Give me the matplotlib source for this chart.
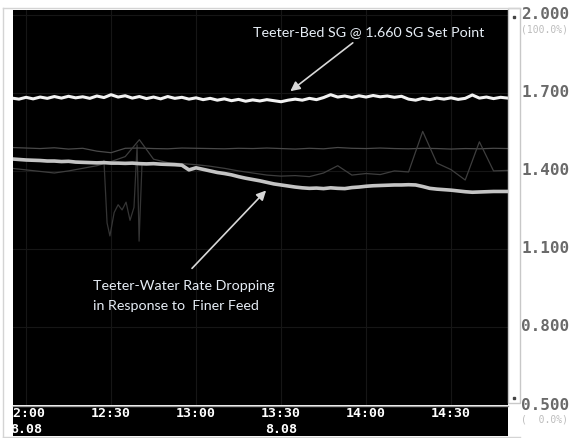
import numpy as np
import matplotlib
matplotlib.use('Agg')
import matplotlib.pyplot as plt
from matplotlib.lines import Line2D
from matplotlib.patches import Rectangle

# time in minutes after 12:00
t = np.arange(-5, 171, 2.5)
t5 = np.arange(-5, 171, 5)

bed_sg = [1.680, 1.676, 1.683, 1.677, 1.684, 1.679, 1.686, 1.680, 1.687, 1.681,
          1.685, 1.679, 1.688, 1.682, 1.693, 1.684, 1.689, 1.680, 1.686, 1.678,
          1.684, 1.677, 1.686, 1.679, 1.683, 1.676, 1.681, 1.674, 1.679, 1.672,
          1.677, 1.670, 1.675, 1.668, 1.673, 1.669, 1.674, 1.670, 1.666, 1.672,
          1.676, 1.672, 1.679, 1.674, 1.682, 1.693, 1.684, 1.688, 1.682, 1.689,
          1.684, 1.690, 1.685, 1.688, 1.683, 1.687, 1.676, 1.672, 1.679, 1.674,
          1.680, 1.676, 1.681, 1.675, 1.679, 1.692, 1.680, 1.684, 1.678, 1.683,
          1.680]

water_rate = [1.446, 1.444, 1.442, 1.441, 1.440, 1.438, 1.438, 1.436, 1.437, 1.434,
              1.433, 1.432, 1.431, 1.432, 1.430, 1.430, 1.429, 1.430, 1.428, 1.427,
              1.428, 1.426, 1.425, 1.424, 1.422, 1.404, 1.412, 1.406, 1.400, 1.394,
              1.390, 1.385, 1.378, 1.372, 1.367, 1.362, 1.356, 1.350, 1.346, 1.342,
              1.338, 1.335, 1.333, 1.334, 1.332, 1.335, 1.333, 1.332, 1.336, 1.338,
              1.341, 1.343, 1.344, 1.345, 1.346, 1.346, 1.347, 1.346, 1.340, 1.333,
              1.330, 1.328, 1.326, 1.323, 1.320, 1.318, 1.319, 1.320, 1.321, 1.321,
              1.321]

thin_a = [1.490, 1.488, 1.486, 1.489, 1.484, 1.487, 1.476, 1.470, 1.487, 1.488,
          1.486, 1.485, 1.488, 1.487, 1.486, 1.485, 1.487, 1.486, 1.488, 1.486,
          1.484, 1.487, 1.485, 1.490, 1.487, 1.486, 1.488, 1.486, 1.485, 1.487,
          1.486, 1.484, 1.486, 1.485, 1.487, 1.486]

thin_b = [1.410, 1.404, 1.398, 1.392, 1.400, 1.410, 1.420, 1.436, 1.455, 1.520,
          1.445, 1.432, 1.428, 1.424, 1.418, 1.410, 1.400, 1.392, 1.384, 1.380,
          1.382, 1.378, 1.392, 1.420, 1.384, 1.390, 1.386, 1.400, 1.396, 1.552,
          1.430, 1.405, 1.365, 1.512, 1.400, 1.402]

drop_t = [27.5, 28.6, 29.6, 31.1, 32.5, 33.9, 35.3, 36.7, 38.1, 39.2, 39.9, 40.9]
drop_v = [1.44, 1.20, 1.15, 1.24, 1.27, 1.25, 1.28, 1.21, 1.26, 1.50, 1.13, 1.42]

ytick_vals = [2.0, 1.7, 1.4, 1.1, 0.8, 0.5]
xtick_mins = [0, 30, 60, 90, 120, 150]
xtick_labels = ['12:00', '12:30', '13:00', '13:30', '14:00', '14:30']

W, H = 579, 438
fig = plt.figure(figsize=(W / 100, H / 100), dpi=100)
fig.patch.set_facecolor('white')

def box(x0, y0, x1, y1):
    # pixel box (top-left origin) -> figure fraction rect
    return [x0 / W, 1 - y1 / H, (x1 - x0) / W, (y1 - y0) / H]

xlim = (-4.6, 170.1)
ax = fig.add_axes(box(13, 10, 508, 405))
ax.set_facecolor('black')
ax.set_xlim(*xlim)
ax.set_ylim(0.5375, 2.0187)
ax.set_xticks(xtick_mins)
ax.set_yticks(ytick_vals)
ax.grid(True, color='#161616', lw=0.8)
ax.tick_params(length=0, labelbottom=False, labelleft=False)
for s in ax.spines.values():
    s.set_visible(False)

ax.plot(drop_t, drop_v, color='#353535', lw=0.9)
ax.plot(t5, thin_a, color='#4a4a4a', lw=0.9)
ax.plot(t5, thin_b, color='#3e3e3e', lw=0.9)
ax.plot(t, water_rate, color='#c4c4c4', lw=2.6)
ax.plot(t, bed_sg, color='#f2f2f2', lw=2.2)

txt_col = '#e6edf5'
ax.text(80.1, 1.9325, 'Teeter-Bed SG @ 1.660 SG Set Point', color=txt_col,
        fontsize=10.3, family='Lato', va='center', ha='left')
ax.annotate('', xy=(92.5, 1.700), xytext=(116.1, 1.899),
            arrowprops=dict(arrowstyle='-|>', color='#d8d8d8', lw=1.2, mutation_scale=14))
ax.text(23.6, 0.9575, 'Teeter-Water Rate Dropping', color=txt_col,
        fontsize=10.3, family='Lato', va='center', ha='left')
ax.text(23.6, 0.8825, 'in Response to  Finer Feed', color=txt_col,
        fontsize=10.3, family='Lato', va='center', ha='left')
ax.annotate('', xy=(85.4, 1.3325), xytext=(57.9, 1.0175),
            arrowprops=dict(arrowstyle='-|>', color='#d8d8d8', lw=1.2, mutation_scale=14))

# value scale on the right
for v in ytick_vals:
    ax.text(1.027, v, f'{v:.3f}', transform=ax.get_yaxis_transform(), clip_on=False,
            color='#6a6a6a', fontsize=11.5, family='DejaVu Sans Mono', weight='bold',
            va='center', ha='left')
ax.text(1.027, 2.0 - 0.055, '(100.0%)', transform=ax.get_yaxis_transform(), clip_on=False,
        color='#bcbcbc', fontsize=7, family='DejaVu Sans Mono', va='center', ha='left')
ax.text(1.027, 0.5 - 0.055, '(  0.0%)', transform=ax.get_yaxis_transform(), clip_on=False,
        color='#bcbcbc', fontsize=7, family='DejaVu Sans Mono', va='center', ha='left')

# time strip
axt = fig.add_axes(box(13, 407, 508, 436))
axt.set_facecolor('black')
axt.set_xlim(*xlim)
axt.set_ylim(0, 1)
axt.set_xticks([])
axt.set_yticks([])
for s in axt.spines.values():
    s.set_visible(False)
for m, lab in zip(xtick_mins, xtick_labels):
    axt.text(m, 0.76, lab, color='white', fontsize=9.5, family='DejaVu Sans Mono',
             weight='bold', ha='center', va='center', clip_on=True)
for m in [0, 90]:
    axt.text(m, 0.22, '8.08', color='white', fontsize=9.5, family='DejaVu Sans Mono',
             weight='bold', ha='center', va='center', clip_on=True)

# frame bits of the trend window
fig.add_artist(Rectangle((508 / W, 1 - 403 / H), 12 / W, 395 / H, transform=fig.transFigure,
                         facecolor='white', edgecolor='#c8c8c8', lw=1))
fig.add_artist(Line2D([3 / W, 3 / W], [1 - 8 / H, 1 - 437 / H], color='#d4d4d4', lw=1))
fig.add_artist(Line2D([3 / W, 520 / W], [1 - 8 / H, 1 - 8 / H], color='#d4d4d4', lw=1))
fig.add_artist(Line2D([13 / W, 508 / W], [1 - 406 / H, 1 - 406 / H], color='#9a9a9a', lw=1))
fig.add_artist(Line2D([3 / W, 520 / W], [1 - 437 / H, 1 - 437 / H], color='#d4d4d4', lw=1))
for yy in [17, 398]:
    fig.add_artist(Line2D([514 / W], [1 - yy / H], marker='s', ms=1.5, color='#444444', lw=0))

fig.savefig('out.png', dpi=100, facecolor='white')
